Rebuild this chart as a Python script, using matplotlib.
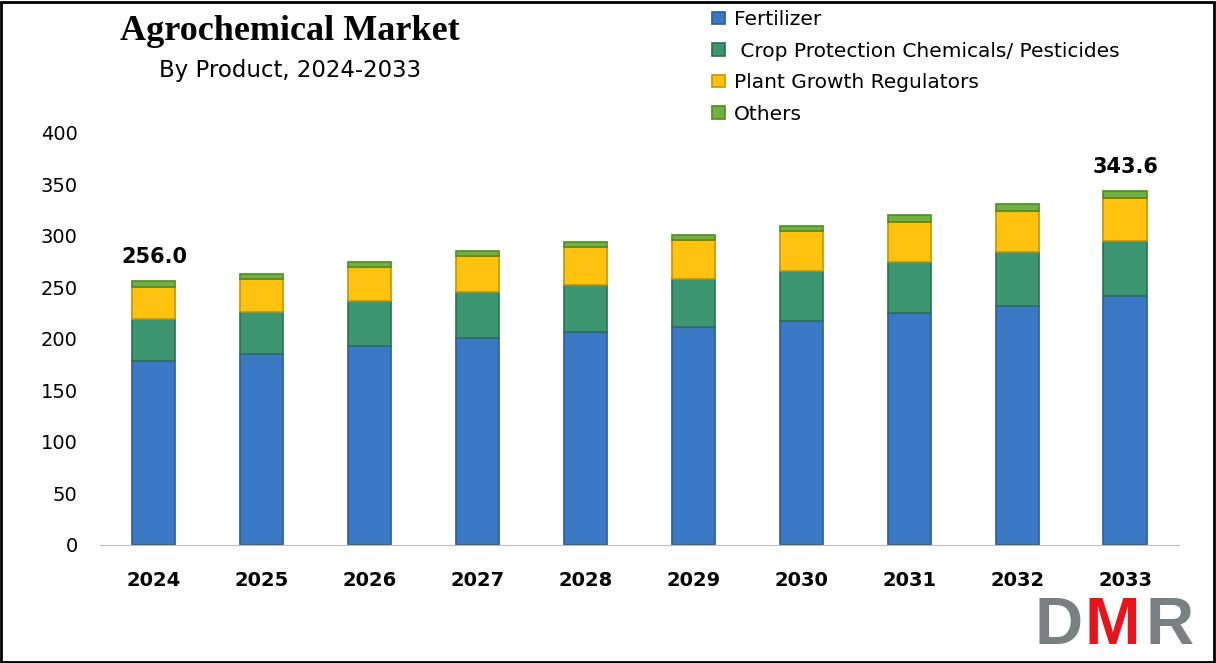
import numpy as np
import matplotlib.pyplot as plt
from matplotlib.patches import Rectangle

years = ['2024', '2025', '2026', '2027', '2028', '2029', '2030', '2031', '2032', '2033']
fertilizer = [178.6, 185.1, 193.2, 200.7, 206.8, 211.7, 217.8, 224.9, 232.3, 242.1]
crop_protection = [40.6, 40.8, 43.4, 44.6, 45.6, 46.6, 48.5, 49.5, 52.2, 53.4]
growth_regulators = [31.6, 32.4, 33.6, 35.6, 36.9, 37.8, 38.6, 39.5, 39.8, 41.7]
others = [5.2, 4.8, 4.6, 4.9, 4.9, 4.9, 5.1, 6.2, 6.8, 6.4]
series_names = ['Fertilizer', ' Crop Protection Chemicals/ Pesticides',
                'Plant Growth Regulators', 'Others']
labelled = {0: '256.0', 9: '343.6'}

colors = ['#3a78c4', '#3d9672', '#ffc20e', '#72b043']
edges = ['#2a5c98', '#2b7054', '#c99400', '#4f8a2a']

fig = plt.figure(figsize=(12.16, 6.63), dpi=100)
ax = fig.add_axes([0.0822, 0.178, 0.8874, 0.6214])

x = np.arange(len(years))
bottom = np.zeros(len(years))
handles = []
for vals, name, c, ec in zip([fertilizer, crop_protection, growth_regulators, others],
                             series_names, colors, edges):
    b = ax.bar(x, vals, 0.4, bottom=bottom, color=c, edgecolor=ec, linewidth=1.2,
               label=name)
    handles.append(b)
    bottom = bottom + np.array(vals)

for i, txt in labelled.items():
    ax.text(x[i], bottom[i] + 14, txt, ha='center', va='bottom',
            fontsize=15, fontweight='bold')

ax.set_xlim(-0.5, len(years) - 0.5)
ax.set_ylim(0, 400)
ax.set_yticks(range(0, 401, 50))
ax.set_xticks(x)
ax.set_xticklabels(years, fontsize=14, fontweight='bold')
ax.tick_params(axis='y', labelsize=14, length=0, pad=16)
ax.tick_params(axis='x', length=0, pad=19)
for s in ['top', 'right', 'left']:
    ax.spines[s].set_visible(False)
ax.spines['bottom'].set_color('#bfbfbf')

fig.text(0.2385, 0.952, 'Agrochemical Market', ha='center', va='center',
         fontsize=26, fontweight='bold', family='Liberation Serif')
fig.text(0.2385, 0.893, 'By Product, 2024-2033', ha='center', va='center',
         fontsize=16.5)

fig.legend(handles=handles, labels=series_names, loc='upper left',
           bbox_to_anchor=(0.571, 1.012), frameon=False, fontsize=14.5,
           handlelength=0.6, handleheight=0.6, handletextpad=0.45,
           labelspacing=0.62)

# DMR logo
logo_y = 0.008
fig.text(0.851, logo_y, 'D', fontsize=48, fontweight='bold', color='#7a7f80',
         family='Liberation Sans', ha='left', va='bottom')
fig.text(0.892, logo_y, 'M', fontsize=48, fontweight='bold', color='#e8141b',
         family='Liberation Sans', ha='left', va='bottom')
fig.text(0.942, logo_y, 'R', fontsize=48, fontweight='bold', color='#7a7f80',
         family='Liberation Sans', ha='left', va='bottom')

fig.patches.append(Rectangle((0.001, 0.002), 0.997, 0.995, transform=fig.transFigure,
                             fill=False, edgecolor='black', linewidth=2))

fig.savefig('out.png', dpi=100)
